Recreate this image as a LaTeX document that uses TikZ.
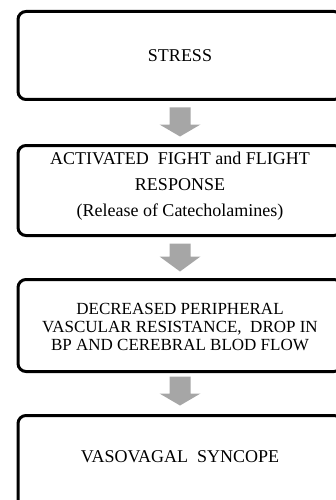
\documentclass[tikz,border=0pt]{standalone}
\usepackage{fontspec}
\setmainfont{Liberation Serif}
\usetikzlibrary{calc}
\definecolor{arrowgray}{HTML}{A6A6A6}
\begin{document}
\begin{tikzpicture}[x=1pt,y=1pt,
  box/.style={draw=black, line width=3pt, rounded corners=8pt, minimum width=324pt, inner sep=0pt},
  txt/.style={align=center, font=\fontsize{18}{19}\selectfont, inner sep=0pt},
  flowarrow/.style={fill=arrowgray, draw=none}]
\useasboundingbox (0,0) rectangle (336,-500);
\clip (0,0) rectangle (336,-500);
% boxes
\node[box, minimum height=88pt] (b1) at (180,-55.5) {};
\node[box, minimum height=90pt] (b2) at (180,-190.5) {};
\node[box, minimum height=92pt] (b3) at (180,-325.5) {};
\node[box, minimum height=100pt] (b4) at (180,-465.5) {};
% texts
\node[txt] (t1) at (180,-56) {STRESS};
\node[txt, font=\fontsize{18}{26}\selectfont] (t2) at (180,-186) {ACTIVATED\ \ FIGHT and FLIGHT\\RESPONSE\\(Release of Catecholamines)};
\node[txt, font=\fontsize{17}{18}\selectfont] (t3) at (180,-327) {DECREASED PERIPHERAL\\VASCULAR RESISTANCE,\ \ DROP IN\\BP AND CEREBRAL BLOD FLOW};
\node[txt] (t4) at ($(b4.north)+(0,-42.5)$) {VASOVAGAL\ \ SYNCOPE};
% block arrows
\fill[flowarrow] ($(b1.south)+(-10.5,-6.5)$) -- ($(b1.south)+(10.5,-6.5)$) -- ($(b1.south)+(10.5,-23.5)$) -- ($(b1.south)+(20.5,-23.5)$) -- ($(b2.north)+(0,7.5)$) -- ($(b1.south)+(-20.5,-23.5)$) -- ($(b1.south)+(-10.5,-23.5)$) -- cycle;
\fill[flowarrow] ($(b2.south)+(-10.5,-6.5)$) -- ($(b2.south)+(10.5,-6.5)$) -- ($(b2.south)+(10.5,-19.5)$) -- ($(b2.south)+(20.5,-19.5)$) -- ($(b3.north)+(0,6.5)$) -- ($(b2.south)+(-20.5,-19.5)$) -- ($(b2.south)+(-10.5,-19.5)$) -- cycle;
\fill[flowarrow] ($(b3.south)+(-10.5,-3.5)$) -- ($(b3.south)+(10.5,-3.5)$) -- ($(b3.south)+(10.5,-20.5)$) -- ($(b3.south)+(20.5,-20.5)$) -- ($(b4.north)+(0,8.5)$) -- ($(b3.south)+(-20.5,-20.5)$) -- ($(b3.south)+(-10.5,-20.5)$) -- cycle;
\end{tikzpicture}
\end{document}
